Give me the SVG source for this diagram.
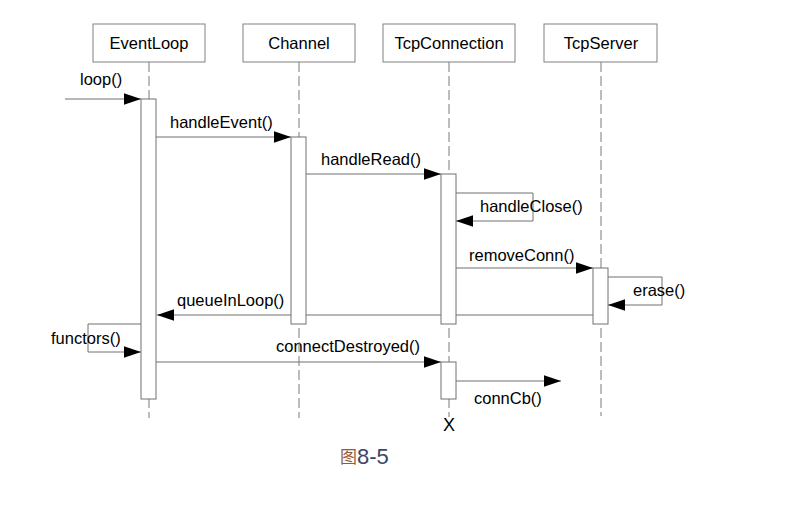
<svg xmlns="http://www.w3.org/2000/svg" width="802" height="512" viewBox="0 0 802 512">
<style>
  .box { fill: #ffffff; stroke: #808080; stroke-width: 1; }
  .act { fill: #ffffff; stroke: #707070; stroke-width: 1; }
  .life { stroke: #7a7a7a; stroke-width: 1; stroke-dasharray: 10 4; fill: none; }
  .msg { stroke: #707070; stroke-width: 1; fill: none; }
  .lbl { font-family: "Liberation Sans", Arial, sans-serif; font-size: 16.5px; fill: #000000; }
  .mid { text-anchor: middle; }
</style>
<defs>
  <marker id="arr" markerUnits="userSpaceOnUse" markerWidth="17" markerHeight="12" viewBox="0 0 16 11" refX="16" refY="5.5" orient="auto">
    <path d="M0,0 L16,5.5 L0,11 z" fill="#000000"/>
  </marker>
</defs>
<rect width="802" height="512" fill="#ffffff"/>

<g id="connectors">
  <path class="msg" d="M65,99 H141" marker-end="url(#arr)"/>
  <text class="lbl" x="80" y="85">loop()</text>
  <path class="msg" d="M156,137 H291" marker-end="url(#arr)"/>
  <text class="lbl" x="170" y="128">handleEvent()</text>
  <path class="msg" d="M306,174 H441" marker-end="url(#arr)"/>
  <text class="lbl" x="321" y="165">handleRead()</text>
  <path class="msg" d="M456,193 H533 V221 H456" marker-end="url(#arr)"/>
  <text class="lbl" x="480" y="212">handleClose()</text>
  <path class="msg" d="M456,268 H593" marker-end="url(#arr)"/>
  <text class="lbl" x="469" y="261">removeConn()</text>
  <path class="msg" d="M608,277 H662 V305 H608" marker-end="url(#arr)"/>
  <text class="lbl" x="633" y="296">erase()</text>
  <path class="msg" d="M593,315 H157" marker-end="url(#arr)"/>
  <text class="lbl" x="177" y="306">queueInLoop()</text>
  <path class="msg" d="M141,324 H88 V352 H141" marker-end="url(#arr)"/>
  <text class="lbl" x="51" y="344">functors()</text>
  <path class="msg" d="M156,362 H441" marker-end="url(#arr)"/>
  <text class="lbl" x="276" y="352">connectDestroyed()</text>
  <path class="msg" d="M456,381 H561" marker-end="url(#arr)"/>
  <text class="lbl" x="474" y="404">connCb()</text>
</g>

<g id="EventLoop">
  <rect class="box" x="93" y="24" width="112" height="38"/>
  <text class="lbl mid" x="149" y="49">EventLoop</text>
  <path class="life" d="M149,62 V418"/>
  <rect class="act" x="141" y="99" width="15" height="300"/>
</g>

<g id="Channel">
  <rect class="box" x="243" y="24" width="112" height="38"/>
  <text class="lbl mid" x="299" y="49">Channel</text>
  <path class="life" d="M299,62 V418"/>
  <rect class="act" x="291" y="137" width="15" height="187"/>
</g>

<g id="TcpConnection">
  <rect class="box" x="383" y="24" width="132" height="38"/>
  <text class="lbl mid" x="449" y="49">TcpConnection</text>
  <path class="life" d="M449,62 V417"/>
  <rect class="act" x="441" y="174" width="15" height="150"/>
  <rect class="act" x="441" y="362" width="15" height="37"/>
  <text class="lbl mid" x="449" y="431" style="font-size:18px">X</text>
</g>

<g id="TcpServer">
  <rect class="box" x="544" y="24" width="113" height="38"/>
  <text class="lbl mid" x="601" y="49">TcpServer</text>
  <path class="life" d="M601,62 V416"/>
  <rect class="act" x="593" y="268" width="15" height="56"/>
</g>

<g id="caption">
  <text x="340" y="463" style="font-family:'Noto Sans CJK SC','Noto Sans CJK TC',sans-serif;font-size:17px;fill:#9a5a30">图</text>
  <text x="357" y="464" style="font-family:'Liberation Sans',Arial,sans-serif;font-size:22px;fill:#3a4766">8-5</text>
</g>
</svg>
